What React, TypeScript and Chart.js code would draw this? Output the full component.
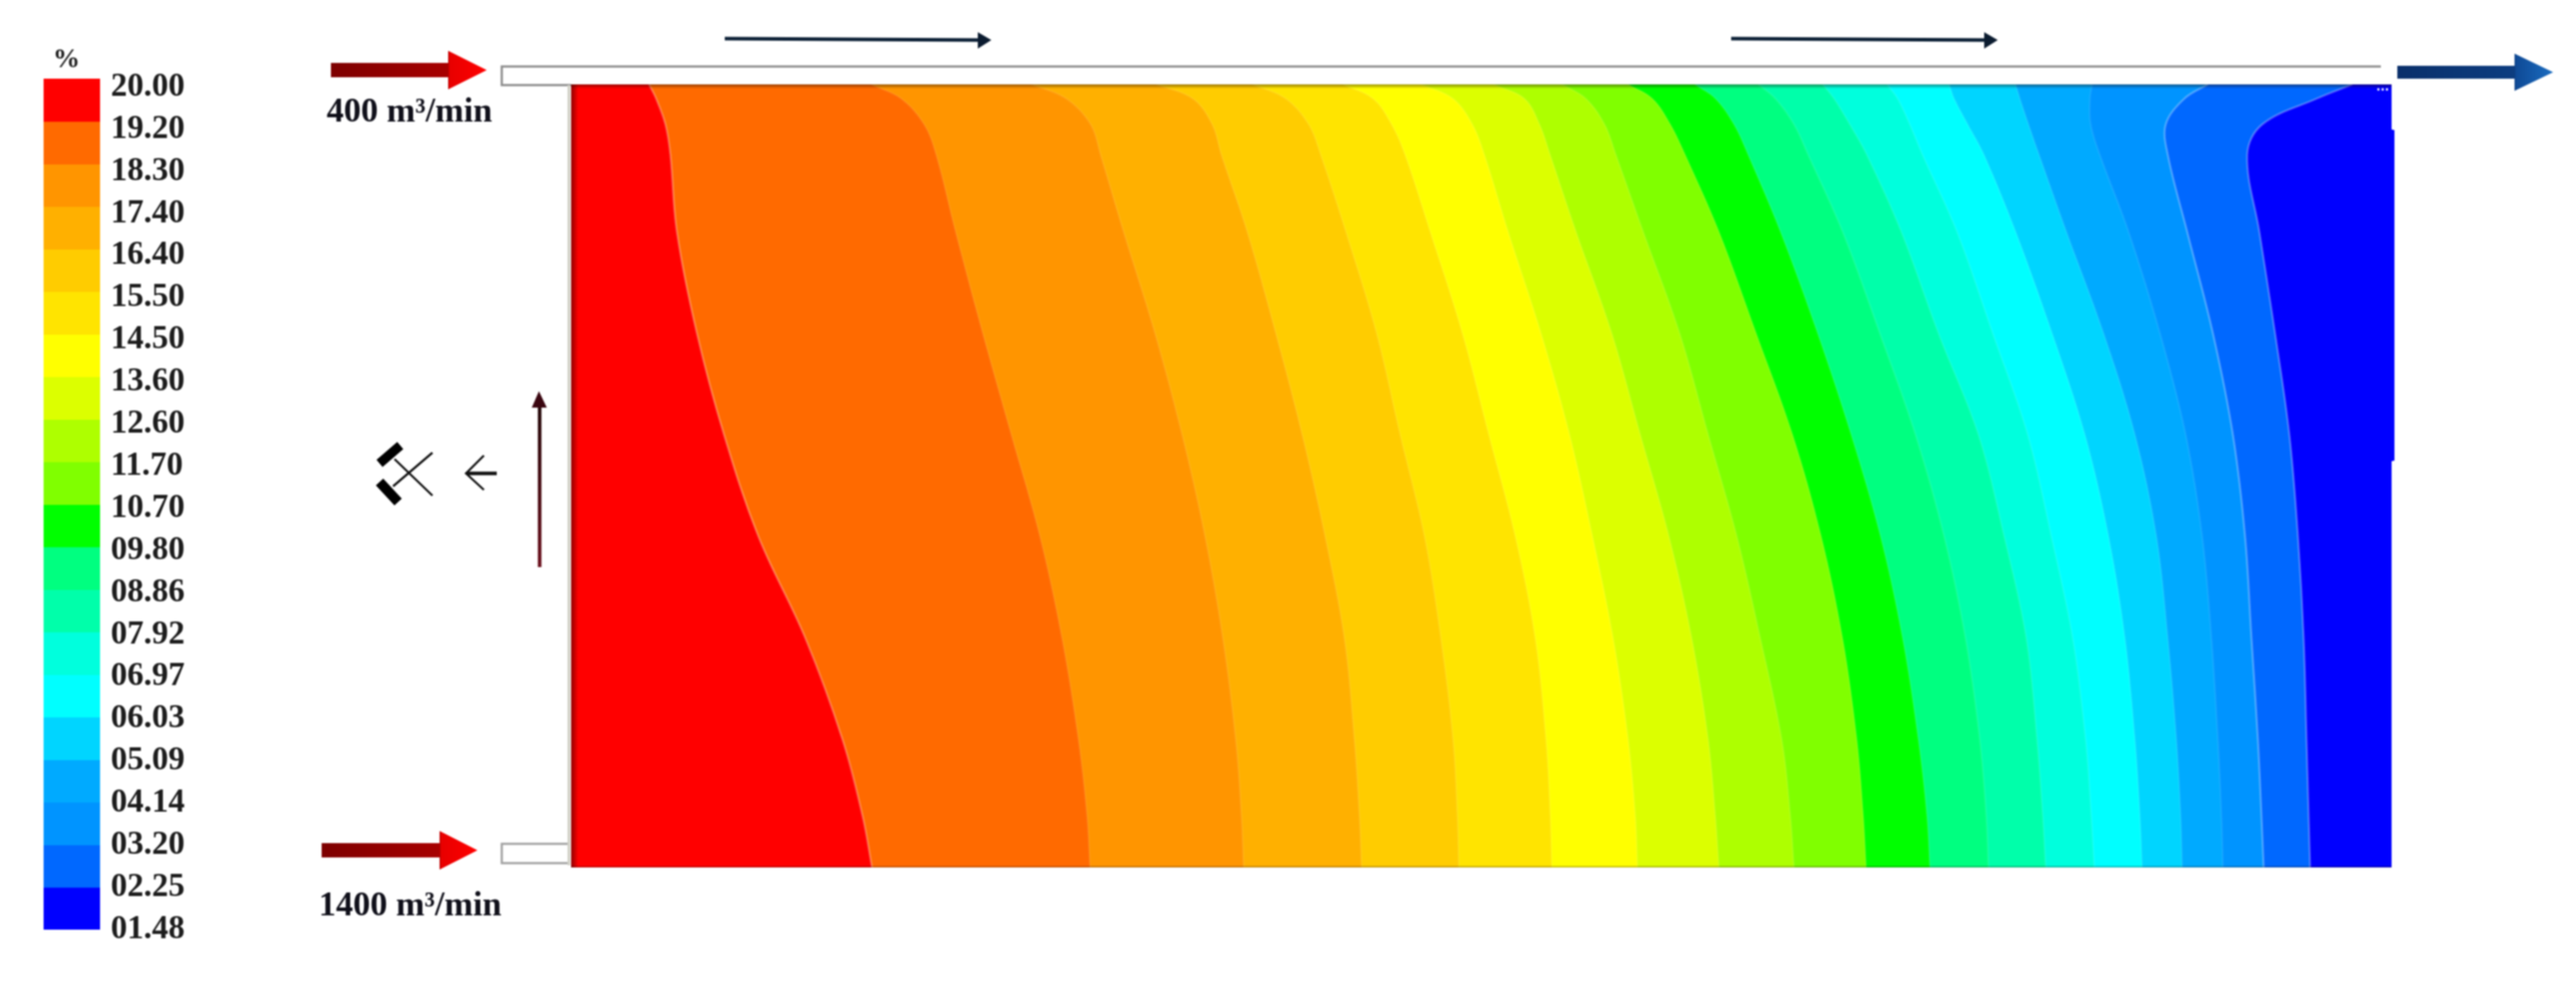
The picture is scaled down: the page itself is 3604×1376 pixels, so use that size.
import React, { useEffect, useRef } from "react";
import { Chart, registerables } from "chart.js";

Chart.register(...registerables);

// Contour stations along the height of the domain
const stationY = [118, 138, 174, 217, 324, 466, 608, 750, 893, 1035, 1142, 1213];

// Contour boundaries, left (high %) to right (low %), read at each station
const c19_20 = [908, 918, 931, 938, 947, 975, 1013, 1061, 1127, 1179, 1207, 1220];
const c18_19 = [1219, 1261, 1293, 1310, 1337, 1375, 1415, 1455, 1486, 1509, 1521, 1525];
const c17_18 = [1444, 1492, 1526, 1540, 1572, 1616, 1654, 1686, 1711, 1729, 1737, 1740];
const c16_17 = [1618, 1669, 1696, 1709, 1745, 1785, 1822, 1854, 1881, 1895, 1902, 1905];
const c15_16 = [1753, 1799, 1831, 1848, 1883, 1926, 1959, 1993, 2016, 2033, 2039, 2041];
const c14_15 = [1879, 1921, 1947, 1966, 2001, 2046, 2083, 2120, 2148, 2163, 2169, 2171];
const c13_14 = [1989, 2033, 2060, 2077, 2110, 2156, 2196, 2228, 2257, 2278, 2288, 2291];
const c12_13 = [2090, 2133, 2154, 2169, 2205, 2255, 2295, 2335, 2367, 2390, 2400, 2405];
const c11_12 = [2186, 2219, 2245, 2261, 2299, 2350, 2390, 2430, 2463, 2493, 2505, 2510];
const c10_11 = [2278, 2312, 2337, 2358, 2405, 2457, 2508, 2548, 2578, 2598, 2607, 2611];
const c09_10 = [2371, 2400, 2426, 2446, 2491, 2543, 2590, 2631, 2662, 2684, 2696, 2700];
const c08_09 = [2460, 2484, 2510, 2530, 2578, 2630, 2680, 2720, 2750, 2770, 2779, 2782];
const c07_08 = [2550, 2566, 2588, 2612, 2660, 2712, 2768, 2804, 2835, 2850, 2858, 2862];
const c06_07 = [2640, 2655, 2672, 2690, 2738, 2788, 2837, 2870, 2900, 2918, 2926, 2930];
const c05_06 = [2727, 2734, 2753, 2776, 2820, 2871, 2917, 2950, 2973, 2987, 2994, 2997];
const c04_05 = [2820, 2826, 2838, 2853, 2891, 2943, 2987, 3017, 3033, 3045, 3051, 3053];
const c03_04 = [2927, 2924, 2925, 2938, 2978, 3022, 3058, 3081, 3094, 3103, 3108, 3110];
const c02_03 = [3089, 3056, 3030, 3033, 3060, 3096, 3124, 3141, 3150, 3159, 3164, 3167];
const c01_02 = [3291, 3241, 3165, 3144, 3161, 3183, 3203, 3215, 3223, 3227, 3230, 3232];
const contours = [
  c19_20, c18_19, c17_18, c16_17, c15_16, c14_15, c13_14, c12_13, c11_12, c10_11,
  c09_10, c08_09, c07_08, c06_07, c05_06, c04_05, c03_04, c02_03, c01_02,
];

// Right wall of the domain
const wallY = [118, 181, 182, 644, 645, 1213];
const wallX = [3346, 3346, 3350, 3350, 3346, 3346];

const legendLabels = [
  "20.00", "19.20", "18.30", "17.40", "16.40", "15.50", "14.50", "13.60", "12.60", "11.70", "10.70",
  "09.80", "08.86", "07.92", "06.97", "06.03", "05.09", "04.14", "03.20", "02.25", "01.48",
];
const bandColors = [
  "#FF0000", "#FF6A00", "#FF9500", "#FFB000", "#FFCC00", "#FFE400", "#FFFF00", "#DCFF00", "#AEFF00", "#80FF00",
  "#00FF00", "#00FF80", "#00FFAA", "#00FFDD", "#00FFFF", "#00D5FF", "#00AAFF", "#0094FF", "#0068FF", "#0000FF",
];

const SERIF = '"Liberation Serif", serif';
const PLOT = { left: 799, right: 3346, top: 118, bottom: 1213 };
const BAR = { left: 61, right: 140, top: 110, band: 59.5 };

type Pt = [number, number];

function decorations(chart: any) {
  const { ctx, scales } = chart;
  const X = (v: number) => scales.x.getPixelForValue(v);
  const Y = (v: number) => scales.y.getPixelForValue(v);

  const poly = (pts: Pt[], fill: any) => {
    ctx.beginPath();
    pts.forEach(([a, b], i) => (i ? ctx.lineTo(X(a), Y(b)) : ctx.moveTo(X(a), Y(b))));
    ctx.closePath();
    ctx.fillStyle = fill;
    ctx.fill();
  };
  const path = (pts: Pt[], color: any, width: number, cap: CanvasLineCap = "butt") => {
    ctx.beginPath();
    pts.forEach(([a, b], i) => (i ? ctx.lineTo(X(a), Y(b)) : ctx.moveTo(X(a), Y(b))));
    ctx.strokeStyle = color;
    ctx.lineWidth = width;
    ctx.lineCap = cap;
    ctx.stroke();
  };
  const block = (x0: number, base: number, tip: number, yc: number, sh: number, hh: number, c0: string, c1: string, c2: string, c3: string) => {
    const g = ctx.createLinearGradient(X(x0), 0, X(tip), 0);
    const s = (base - x0) / (tip - x0);
    g.addColorStop(0, c0);
    g.addColorStop(s, c1);
    g.addColorStop(s + 0.01, c2);
    g.addColorStop(1, c3);
    poly([[x0, yc - sh], [base, yc - sh], [base, yc - hh], [tip, yc], [base, yc + hh], [base, yc + sh], [x0, yc + sh]], g);
  };

  ctx.save();

  // shading at the domain's edges
  const top = ctx.createLinearGradient(0, Y(PLOT.top), 0, Y(PLOT.top + 6));
  top.addColorStop(0, "rgba(30,10,0,0.45)");
  top.addColorStop(1, "rgba(30,10,0,0)");
  ctx.fillStyle = top;
  ctx.fillRect(X(PLOT.left), Y(PLOT.top), X(PLOT.right) - X(PLOT.left), 6);
  const left = ctx.createLinearGradient(X(PLOT.left), 0, X(PLOT.left + 10), 0);
  left.addColorStop(0, "rgba(50,0,0,0.55)");
  left.addColorStop(1, "rgba(50,0,0,0)");
  ctx.fillStyle = left;
  ctx.fillRect(X(PLOT.left), Y(PLOT.top), 10, Y(PLOT.bottom) - Y(PLOT.top));
  const bottom = ctx.createLinearGradient(0, Y(PLOT.bottom - 3), 0, Y(PLOT.bottom));
  bottom.addColorStop(0, "rgba(30,10,0,0)");
  bottom.addColorStop(1, "rgba(30,10,0,0.35)");
  ctx.fillStyle = bottom;
  ctx.fillRect(X(PLOT.left), Y(PLOT.bottom - 3), X(PLOT.right) - X(PLOT.left), 3);

  // specks at the outlet corner
  [3326, 3332, 3338].forEach((x) => path([[x, 125], [x + 3, 125]], "#ffffff", 3));

  // ducts and the left wall
  path([[3331, 93], [702, 93], [702, 119], [799, 119]], "#8a8a8a", 3);
  path([[797, 1180], [702, 1180], [702, 1207], [797, 1207]], "#a0a0a0", 3);
  path([[796, 119], [796, 1210]], "#d2d2c8", 4);

  // large flow arrows
  block(463, 627, 681, 98, 10, 27, "#7d0000", "#a80000", "#e80000", "#ff0000");
  block(450, 615, 668, 1189, 10, 27, "#7d0000", "#a80000", "#e80000", "#ff0000");
  block(3354, 3518, 3572, 101, 9, 26, "#0a2f6a", "#0d3d80", "#0f4a96", "#1a6cc0");

  // thin flow arrows
  [[1014, 1368, 1387], [2422, 2776, 2795]].forEach(([a, b, c]) => {
    path([[a, 54], [b, 56]], "#0c2036", 5);
    poly([[b, 45], [c, 56], [b, 68]], "#0c1c30");
  });

  // rising arrow along the wall
  const rise = ctx.createLinearGradient(0, Y(793), 0, Y(547));
  rise.addColorStop(0, "#6a0f1c");
  rise.addColorStop(1, "#1c0505");
  path([[755, 793], [755, 565]], rise, 5);
  poly([[744, 570], [754, 547], [765, 570]], "#3a0610");

  // fan symbol and its arrow
  path([[552, 642], [605, 693]], "#111", 3);
  path([[550, 680], [605, 633]], "#111", 3);
  path([[531, 648], [560, 623]], "#000", 13);
  path([[531, 674], [557, 702]], "#000", 14);
  path([[695, 662], [654, 662]], "#111", 5);
  path([[677, 637], [652, 662], [677, 685]], "#111", 3);

  // text
  ctx.fillStyle = "#1c1c1c";
  ctx.textBaseline = "middle";
  ctx.textAlign = "left";
  ctx.font = `bold 46px ${SERIF}`;
  legendLabels.forEach((t, i) => ctx.fillText(t, X(155), Y(122 + 58.9 * i)));
  ctx.font = `bold 38px ${SERIF}`;
  ctx.textAlign = "center";
  ctx.fillText("%", X(93), Y(84));
  ctx.textAlign = "left";
  ctx.font = `bold 48px ${SERIF}`;
  ctx.fillStyle = "#10101a";
  ctx.fillText("400 m³/min", X(457), Y(158));
  ctx.fillText("1400 m³/min", X(446), Y(1268));
  ctx.restore();
}

export default function App() {
  const ref = useRef<HTMLCanvasElement | null>(null);

  useEffect(() => {
    if (!ref.current) return;
    const datasets: any[] = [];

    // colour bar: each band runs a little under the next to avoid seams
    bandColors.forEach((color, i) => {
      datasets.push({
        data: [
          { x: BAR.right, y: BAR.top + i * BAR.band },
          { x: BAR.right, y: BAR.top + (i + 1) * BAR.band + (i < bandColors.length - 1 ? 1 : 0) },
        ],
        backgroundColor: color,
        borderWidth: 0,
        pointRadius: 0,
        fill: { value: BAR.left },
        tension: 0,
      });
    });

    // contour bands, painted from the right so that the left ones lie on top
    contours.forEach((xs, i) => {
      const strong = i === 0 || i >= contours.length - 2;
      datasets.push({
        data: xs.map((x, j) => ({ x, y: stationY[j] })),
        backgroundColor: bandColors[i],
        borderColor: strong ? "rgba(255,255,255,0.28)" : "rgba(255,255,255,0.07)",
        borderWidth: 3,
        pointRadius: 0,
        fill: { value: PLOT.left },
        tension: 0.36,
      });
    });
    datasets.push({
      data: wallX.map((x, j) => ({ x, y: wallY[j] })),
      backgroundColor: bandColors[19],
      borderWidth: 0,
      pointRadius: 0,
      fill: { value: PLOT.left },
      tension: 0,
    });

    const chart = new Chart(ref.current, {
      type: "line",
      data: { datasets },
      options: {
        indexAxis: "y",
        responsive: false,
        animation: false,
        layout: { padding: 0 },
        scales: {
          x: { type: "linear", min: 0, max: 3604, display: false },
          y: { type: "linear", min: 0, max: 1376, reverse: true, display: false },
        },
        plugins: { legend: { display: false }, tooltip: { enabled: false } },
      },
      plugins: [{ id: "decorations", afterDatasetsDraw: decorations }],
    } as any);
    return () => chart.destroy();
  }, []);

  return (
    <canvas
      ref={ref}
      width={3604}
      height={1376}
      style={{ position: "absolute", left: 0, top: 0, display: "block", background: "#fff", filter: "blur(0.8px)" }}
    />
  );
}
